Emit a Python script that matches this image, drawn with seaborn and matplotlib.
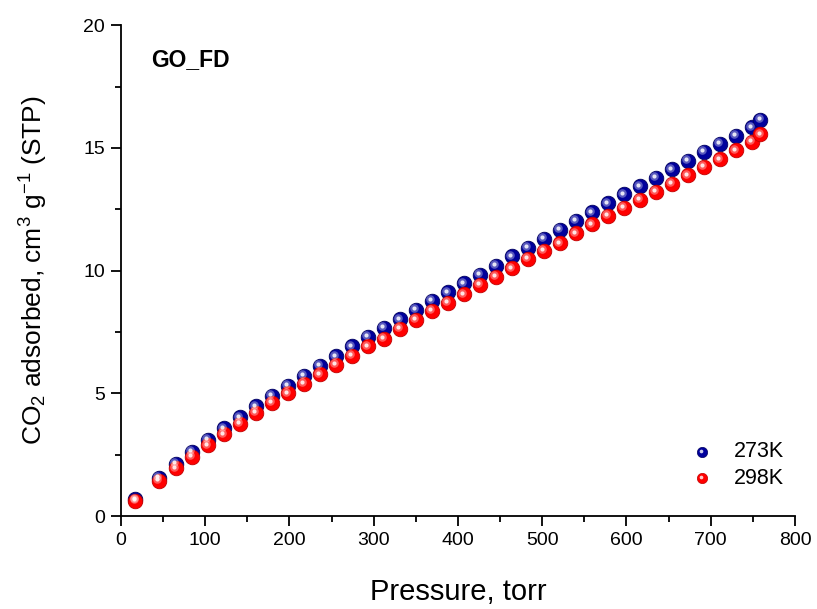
import matplotlib
matplotlib.use('Agg')
import matplotlib.pyplot as plt
import matplotlib.transforms as mtransforms
from matplotlib.ticker import MultipleLocator
import seaborn as sns
import pandas as pd

# Données
pressure = [17, 45, 65, 84, 103, 122, 141, 160, 179, 198,
            217, 236, 255, 274, 293, 312, 331, 350, 369, 388,
            407, 426, 445, 464, 483, 502, 521, 540, 559, 578,
            597, 616, 635, 654, 673, 692, 711, 730, 749, 759]
co2_273k = [0.68, 1.55, 2.12, 2.62, 3.10, 3.57, 4.02, 4.47, 4.90, 5.31,
            5.72, 6.11, 6.50, 6.91, 7.29, 7.66, 8.02, 8.40, 8.77, 9.12,
            9.48, 9.84, 10.20, 10.58, 10.94, 11.30, 11.65, 12.03, 12.38, 12.74,
            13.10, 13.43, 13.78, 14.12, 14.47, 14.83, 15.17, 15.49, 15.83, 16.14]
co2_298k = [0.62, 1.44, 1.94, 2.42, 2.88, 3.33, 3.76, 4.20, 4.62, 5.00,
            5.39, 5.77, 6.15, 6.53, 6.91, 7.22, 7.62, 8.00, 8.35, 8.69,
            9.04, 9.41, 9.74, 10.10, 10.47, 10.81, 11.11, 11.52, 11.89, 12.23,
            12.57, 12.88, 13.21, 13.54, 13.88, 14.23, 14.54, 14.90, 15.25, 15.56]
series = ['273K', '298K']
colors = {'273K': '#00009c', '298K': '#ff0000'}
edges = {'273K': '#000060', '298K': '#c00000'}

sns.set_theme(style='ticks')
plt.rcParams['font.family'] = ['Liberation Sans', 'DejaVu Sans']
plt.rcParams['text.color'] = 'black'
plt.rcParams['axes.labelcolor'] = 'black'
plt.rcParams['mathtext.fontset'] = 'custom'
plt.rcParams['mathtext.rm'] = 'Liberation Sans'
plt.rcParams['mathtext.it'] = 'Liberation Sans'

df = pd.concat([
    pd.DataFrame({'pressure': pressure, 'co2': co2_273k, 'T': '273K'}),
    pd.DataFrame({'pressure': pressure, 'co2': co2_298k, 'T': '298K'}),
])

fig = plt.figure(figsize=(8.17, 6.09), dpi=100)
ax = fig.add_axes([0.148, 0.1527, 0.825, 0.806])

# Sphères : disque coloré + reflet clair décalé
hl = mtransforms.offset_copy(ax.transData, fig=fig, x=-1.6, y=1.6, units='dots')
for name in series:
    sub = df[df['T'] == name]
    sns.scatterplot(data=sub, x='pressure', y='co2', color=colors[name], s=110,
                    edgecolor=edges[name], linewidth=0.6, ax=ax, legend=False, zorder=3)
    ax.scatter(sub['pressure'], sub['co2'], s=38, color='white', alpha=0.35,
               linewidth=0, transform=hl, zorder=4)
    ax.scatter(sub['pressure'], sub['co2'], s=9, color='white', alpha=0.85,
               linewidth=0, transform=hl, zorder=5)

ax.set_xlim(0, 800)
ax.set_ylim(0, 20)
ax.xaxis.set_major_locator(MultipleLocator(100))
ax.xaxis.set_minor_locator(MultipleLocator(50))
ax.yaxis.set_major_locator(MultipleLocator(5))
ax.yaxis.set_minor_locator(MultipleLocator(2.5))
ax.tick_params(which='major', length=7.5, width=1.3, labelsize=14, pad=4,
               direction='out', color='black', labelcolor='black')
ax.tick_params(which='minor', length=4.3, width=1.3, direction='out', color='black')
sns.despine(ax=ax)
for sp in ['left', 'bottom']:
    ax.spines[sp].set_linewidth(1.3)
    ax.spines[sp].set_color('black')

ax.set_xlabel('Pressure, torr', fontsize=21, labelpad=21)
ax.set_ylabel(r'CO$_2$ adsorbed, cm$^3$ g$^{-1}$ (STP)', fontsize=19, labelpad=24)
ax.text(0.045, 0.93, 'GO_FD', transform=ax.transAxes, fontsize=16.5, fontweight='bold',
        va='center', ha='left')

# Légende manuelle, coin inférieur droit
for i, name in enumerate(series):
    yy = 0.131 - i * 0.054
    ax.scatter([0.862], [yy], s=55, color=colors[name], edgecolor=edges[name],
               linewidth=0.5, transform=ax.transAxes, clip_on=False, zorder=5)
    ax.scatter([0.862], [yy], s=7, color='white', alpha=0.8, linewidth=0,
               transform=mtransforms.offset_copy(ax.transAxes, fig=fig, x=-1.2, y=1.2, units='dots'),
               clip_on=False, zorder=6)
    ax.text(0.91, yy, name, transform=ax.transAxes, fontsize=15.5, va='center', ha='left')

fig.savefig('out.png', dpi=100)
